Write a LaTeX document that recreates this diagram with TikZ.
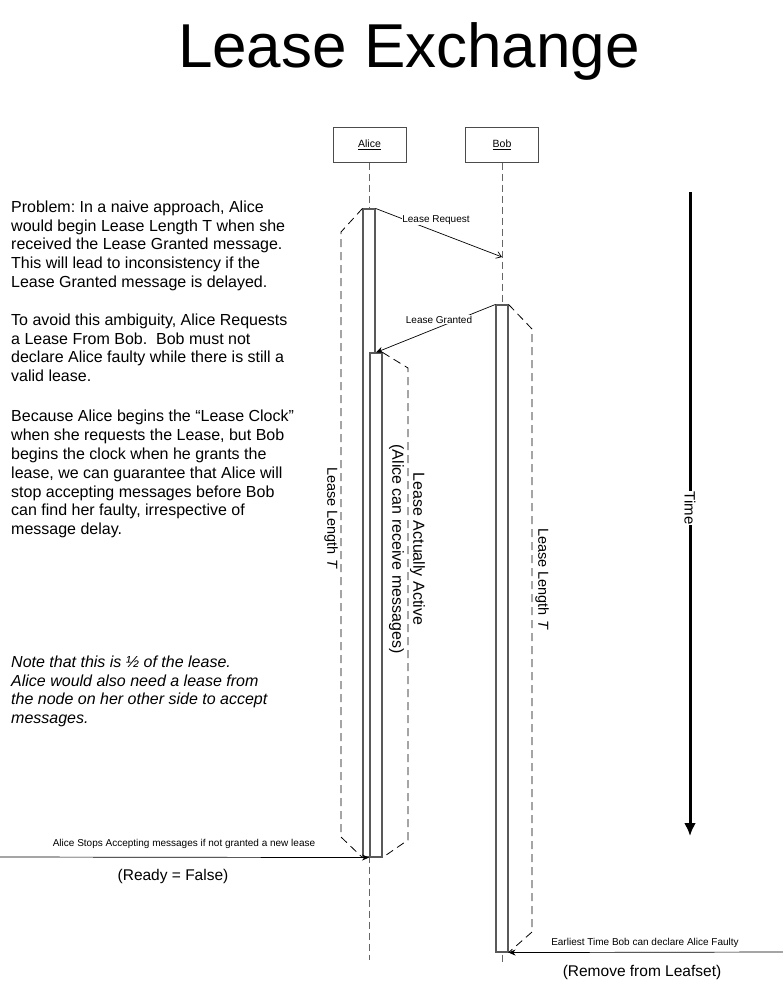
\documentclass[tikz,border=0pt]{standalone}
\usepackage{fontspec}
\setmainfont{Liberation Sans}
\usetikzlibrary{arrows.meta}
\frenchspacing
\begin{document}
\begin{tikzpicture}[x=1pt,y=-1pt,
  lifeline/.style={draw=black!60, line width=1pt, dash pattern=on 7pt off 4pt},
  bracket/.style={draw=black, line width=0.8pt, dash pattern=on 8pt off 5pt},
  bar/.style={draw=black!65, line width=1.1pt, fill=white, minimum width=12pt, inner sep=0pt, rectangle},
  objbox/.style={draw=black!70, line width=1pt, fill=white, minimum width=73pt, minimum height=35pt, inner sep=0pt, font=\fontsize{10.5}{12}\selectfont},
  msg/.style={draw=black, line width=0.7pt, -{Stealth[length=7pt,width=6pt]}},
  smalllbl/.style={font=\fontsize{10}{12}\selectfont, inner sep=0pt, anchor=base},
  biglbl/.style={font=\fontsize{15.5}{18}\selectfont, inner sep=0pt, anchor=base},
  body/.style={font=\fontsize{16}{18.83}\selectfont, align=left, anchor=north west, inner sep=0pt},
  vlabel/.style={font=\fontsize{14.5}{21}\selectfont, rotate=-90, inner sep=0pt, align=center}]
\useasboundingbox (0,0) rectangle (783,982);

% title
\node[anchor=base, font=\fontsize{62}{70}\selectfont, inner sep=0pt] (title) at (409,67) {Lease Exchange};

% objects and lifelines
\node[objbox] (alice) at (369.5,144.5) {\underline{Alice}};
\node[objbox] (bob) at (502,144.5) {\underline{Bob}};
\coordinate (aend) at (369.5,960);
\coordinate (bend) at (502,962);
\draw[lifeline] (alice.south) -- (aend);
\draw[lifeline] (bob.south) -- (bend);

% activation bars
\node[bar, minimum height=648pt] (bar1) at (369,533) {};
\node[bar, minimum height=504pt] (bar2) at (376,605) {};
\node[bar, minimum height=647pt] (bobbar) at (502,628.5) {};

% dashed brackets
\coordinate (l1) at (341,232);
\coordinate (l2) at (341,837);
\draw[bracket] (bar1.north west) -- (l1) -- (l2) -- (bar1.south west);
\coordinate (m1) at (408,368);
\coordinate (m2) at (408,840);
\draw[bracket] (bar2.north east) -- (m1) -- (m2) -- (bar2.south east);
\coordinate (b1) at (532,329);
\coordinate (b2) at (532,932);
\draw[bracket] (bobbar.north east) -- (b1) -- (b2) -- (bobbar.south east);

% messages
\coordinate (reqend) at (502,257);
\draw[draw=black, line width=0.7pt, -{Straight Barb[length=5pt,width=7pt]}] (bar1.north east) -- (reqend);
\node[smalllbl, fill=white, inner sep=0.5pt] (reqlbl) at (436,222) {Lease Request};
\draw[msg] (bobbar.north west) -- (bar2.north);
\node[smalllbl, fill=white, inner sep=0.5pt] (grlbl) at (439,323) {Lease Granted};

\coordinate (lstart) at (0,857);
\draw[msg] (lstart) -- (bar1.south);
\node[smalllbl] (stoplbl) at (184,846) {Alice Stops Accepting messages if not granted a new lease};
\node[biglbl] (ready) at (173,880) {(Ready = False)};

\coordinate (rstart) at (783,952);
\draw[msg] (rstart) -- (bobbar.south east);
\node[smalllbl] (earlbl) at (645,945) {Earliest Time Bob can declare Alice Faulty};
\node[biglbl] (remove) at (642,976) {(Remove from Leafset)};

% rotated labels
\node[vlabel] (llen) at (331,518) {Lease Length \textit{T}};
\node[vlabel, font=\fontsize{16}{21}\selectfont] (active) at (407,549) {Lease Actually Active\\(Alice can receive messages)};
\node[vlabel] (blen) at (542,579) {Lease Length \textit{T}};

% time arrow
\coordinate (ttop) at (690,192);
\coordinate (tbot) at (690,836);
\draw[line width=3pt, -{Latex[length=13pt,width=12pt]}] (ttop) -- (tbot);
\node[vlabel, fill=white, inner sep=1pt, font=\fontsize{15}{18}\selectfont] (time) at (690,508) {Time};

% body text
\node[body] (p1) at (11,200.5) {Problem: In a naive approach, Alice\\would begin Lease Length T when she\\received the Lease Granted message.\\This will lead to inconsistency if the\\Lease Granted message is delayed.};
\node[body] (p2) at (11,313.5) {To avoid this ambiguity, Alice Requests\\a Lease From Bob.\ \ Bob must not\\declare Alice faulty while there is still a\\valid lease.};
\node[body] (p3) at (11,410) {Because Alice begins the “Lease Clock”\\when she requests the Lease, but Bob\\begins the clock when he grants the\\lease, we can guarantee that Alice will\\stop accepting messages before Bob\\can find her faulty, irrespective of\\message delay.};
\node[body, font=\itshape\fontsize{16}{18.83}\selectfont] (p4) at (11,655.5) {Note that this is ½ of the lease.\\Alice would also need a lease from\\the node on her other side to accept\\messages.};
\end{tikzpicture}
\end{document}
